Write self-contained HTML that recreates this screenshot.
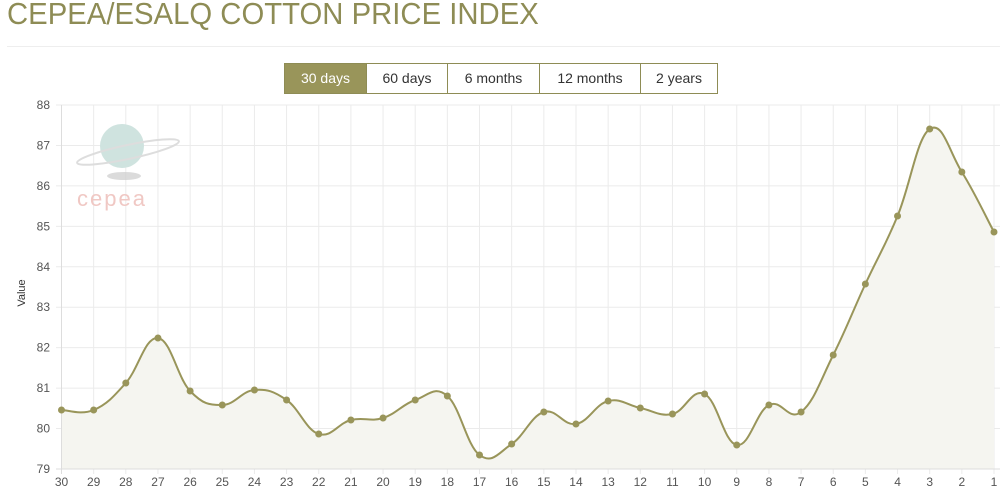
<!DOCTYPE html>
<html><head><meta charset="utf-8"><style>
body{margin:0;width:1005px;height:502px;background:#fff;font-family:"Liberation Sans",sans-serif;overflow:hidden;position:relative}
h1{position:absolute;left:7px;top:-4px;margin:0;font-weight:normal;font-size:31px;color:#8e8c55;white-space:nowrap;transform:scaleX(0.945);transform-origin:0 0}
.hr{position:absolute;left:7px;top:46px;width:993px;height:1px;background:#eee}
.btns{position:absolute;left:284px;top:63px;display:flex;border:1px solid #8e8c55;height:29px}
.btns div{font-size:14px;line-height:29px;color:#333;border-left:1px solid #8e8c55;text-align:center;box-sizing:border-box}
.btns div:first-child{border-left:none;background:#99955a;color:#fff}
</style></head><body>
<h1>CEPEA/ESALQ COTTON PRICE INDEX</h1>
<div class="hr"></div>
<div class="btns"><div style="width:81px">30 days</div><div style="width:81px">60 days</div><div style="width:92px">6 months</div><div style="width:101px">12 months</div><div style="width:77px">2 years</div></div>
<svg id="c" width="1005" height="502" style="position:absolute;left:0;top:0;pointer-events:none"></svg>
<script>
var s='',x0=61.5,dx=(994-61.5)/29,y88=105,pu=(469-105)/9;
var ys=[410,410,383,338,391,405,390,400,434,420,418,400,396,455,444,412,424,401,408,414,394,445,405,412,355,284,216,129,172,232];
for(var v=79;v<=88;v++){var y=y88+(88-v)*pu;s+='<line x1="56" x2="1000" y1="'+y+'" y2="'+y+'" stroke="#ebebeb"/>';s+='<text x="50" y="'+(y+4)+'" font-size="12" fill="#555" text-anchor="end">'+v+'</text>';}
for(var i=0;i<30;i++){var x=x0+i*dx;s+='<line x1="'+x+'" x2="'+x+'" y1="105" y2="474" stroke="#ebebeb"/>';s+='<text x="'+x+'" y="486" font-size="12" fill="#555" text-anchor="middle">'+(30-i)+'</text>';}
s+='<text transform="translate(25,293) rotate(-90)" font-size="11" fill="#333" text-anchor="middle">Value</text>';
s+='<ellipse cx="124" cy="176" rx="17" ry="4" fill="#ccc" opacity=".7"/><circle cx="122" cy="146" r="22" fill="#cfe3df"/><ellipse cx="128" cy="152" rx="52" ry="7" transform="rotate(-12 128 152)" fill="none" stroke="#ddd" stroke-width="2"/><text x="77" y="206" font-size="22" fill="#f0c8c4" letter-spacing="2">cepea</text>';
var p=ys.map(function(y,i){return [x0+i*dx,y]});
var d='M'+p[0][0]+','+p[0][1];
for(var i=0;i<p.length-1;i++){var a=p[i-1]||p[i],b=p[i],c=p[i+1],e=p[i+2]||c,t=0.2;
d+=' C'+(b[0]+(c[0]-a[0])*t)+','+(b[1]+(c[1]-a[1])*t)+' '+(c[0]-(e[0]-b[0])*t)+','+(c[1]-(e[1]-b[1])*t)+' '+c[0]+','+c[1];}
s+='<path d="'+d+' L994,469 L61.5,469Z" fill="#f5f5f0"/>';
s+='<line x1="61.5" x2="61.5" y1="105" y2="474" stroke="#ddd"/><line x1="56" x2="1000" y1="469" y2="469" stroke="#ddd"/>';
s+='<path d="'+d+'" fill="none" stroke="#99955a" stroke-width="2"/>';
p.forEach(function(q){s+='<circle cx="'+q[0]+'" cy="'+q[1]+'" r="3.5" fill="#99955a"/>'});
document.getElementById('c').innerHTML=s;
</script>
</body></html>
